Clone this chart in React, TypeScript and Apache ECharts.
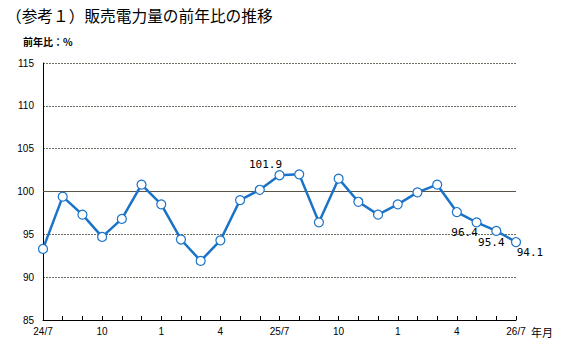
import React, { useEffect, useRef } from "react";
import * as echarts from "echarts";

const categories = [
  "24/7", "8", "9", "10", "11", "12", "1", "2", "3", "4", "5", "6",
  "25/7", "8", "9", "10", "11", "12", "1", "2", "3", "4", "5", "6", "26/7",
];
const values = [
  93.3, 99.4, 97.3, 94.7, 96.8, 100.8, 98.5, 94.4, 91.9, 94.3, 99.0, 100.2,
  101.9, 102.0, 96.4, 101.5, 98.8, 97.3, 98.5, 99.9, 100.8, 97.6, 96.4, 95.4, 94.1,
];
const labelled: Record<number, { position: string; offset: number[] }> = {
  12: { position: "top", offset: [-14, 5] },
  22: { position: "bottom", offset: [-12, -5] },
  23: { position: "bottom", offset: [-5, -4] },
  24: { position: "bottom", offset: [14, -5] },
};

export default function App() {
  const ref = useRef<HTMLDivElement>(null);
  useEffect(() => {
    const chart = echarts.init(ref.current!, null, { renderer: "svg" });
    const jp = "'Noto Sans CJK JP', sans-serif";
    chart.setOption({
      animation: false,
      backgroundColor: "#fff",
      grid: { left: 43, right: 46, top: 63, bottom: 34 },
      graphic: [
        {
          type: "text",
          left: 6,
          top: 8,
          style: { text: "（参考１）販売電力量の前年比の推移", font: `15.7px ${jp}`, fill: "#000" },
        },
        {
          type: "text",
          left: 23,
          top: 36,
          style: { text: "前年比：%", font: `bold 10px ${jp}`, fill: "#000" },
        },
        {
          type: "text",
          left: 531,
          top: 326,
          style: { text: "年月", font: `11px ${jp}`, fill: "#000" },
        },
      ],
      xAxis: {
        type: "category",
        data: categories,
        boundaryGap: false,
        axisLine: { lineStyle: { color: "#000", width: 1 } },
        axisTick: { show: true, inside: true, length: 4, interval: 0, lineStyle: { color: "#000" } },
        axisLabel: { interval: 2, color: "#000", fontSize: 10, margin: 6, fontFamily: "'Liberation Sans', sans-serif" },
        splitLine: { show: false },
      },
      yAxis: {
        type: "value",
        min: 85,
        max: 115,
        interval: 5,
        axisLine: { show: true, lineStyle: { color: "#000", width: 1 } },
        axisTick: { show: false },
        axisLabel: { color: "#000", fontSize: 10, margin: 9, fontFamily: "'Liberation Sans', sans-serif" },
        splitLine: { show: true, lineStyle: { color: "#6a6f62", type: [2, 1], width: 1 } },
      },
      series: [
        {
          type: "line",
          data: values.map((v, i) =>
            labelled[i]
              ? {
                  value: v,
                  label: {
                    show: true,
                    position: labelled[i].position,
                    offset: labelled[i].offset,
                    formatter: (p: any) => p.value.toFixed(1),
                    color: "#000",
                    fontSize: 11,
                    fontFamily: "'DejaVu Sans Mono', monospace",
                  },
                }
              : v
          ),
          symbol: "circle",
          symbolSize: 9,
          showAllSymbol: true,
          lineStyle: { color: "#1a73c8", width: 2.5 },
          itemStyle: { color: "#fff", borderColor: "#1a73c8", borderWidth: 1.2 },
          label: { show: false },
          markLine: {
            silent: true,
            symbol: "none",
            label: { show: false },
            lineStyle: { color: "#5b5548", type: "solid", width: 1 },
            data: [{ yAxis: 100 }],
            z: 1,
          },
          z: 3,
        },
      ],
    });
    return () => chart.dispose();
  }, []);
  return <div ref={ref} style={{ width: 562, height: 354, position: "absolute", left: 0, top: 0 }} />;
}
